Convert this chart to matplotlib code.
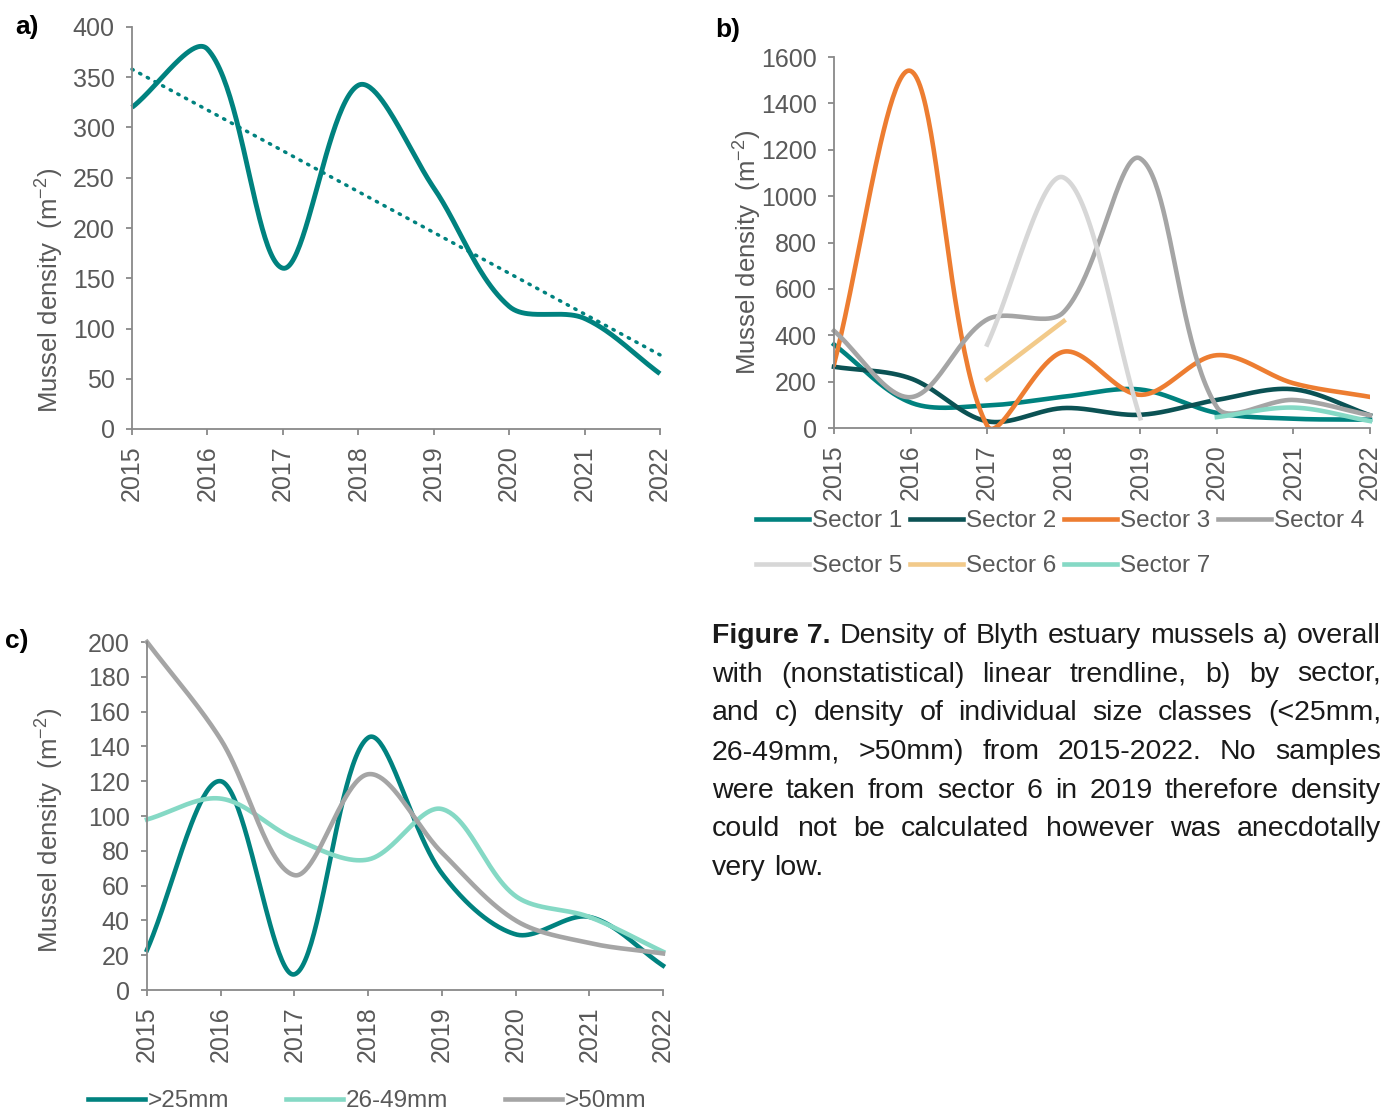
import numpy as np
import matplotlib
matplotlib.use("Agg")
import matplotlib.pyplot as plt

plt.rcParams['font.family'] = ['Liberation Sans', 'DejaVu Sans']
plt.rcParams['mathtext.fontset'] = 'custom'
plt.rcParams['mathtext.rm'] = 'Liberation Sans'
plt.rcParams['mathtext.default'] = 'regular'

# ---- data ----
years = [2015, 2016, 2017, 2018, 2019, 2020, 2021, 2022]

overall = [320, 378, 160, 342, 240, 122, 110, 55]

sector1 = [360, 110, 97, 135, 166, 65, 40, 36]
sector2 = [264, 214, 29, 86, 57, 121, 167, 55]
sector3 = [275, 1540, 10, 329, 143, 314, 193, 134]
sector4 = [419, 133, 468, 500, 1162, 90, 121, 55]
sector5_years = [2017, 2018, 2019]
sector5 = [360, 1080, 42]
sector6_years = [2017, 2018]
sector6 = [210, 461]
sector7_years = [2020, 2021, 2022]
sector7 = [47, 88, 30]

size_25 = [23, 120, 9, 145, 67, 32, 42, 14]
size_26_49 = [98, 110, 87, 75, 104, 54, 42, 22]
size_50 = [200, 144, 66, 124, 79, 40, 27, 21]

TEAL = '#00827F'
DARK = '#0B5254'
ORANGE = '#ED7D31'
GRAY = '#A5A5A5'
LGRAY = '#D7D7D7'
SAND = '#F2CA8A'
MINT = '#85D9C5'
TXT = '#595959'
SPINE = '#898989'

W, H = 1381, 1110
TICK_FS = 18
LAB_FS = 18.5
LEG_FS = 17.5


def smooth(xs, ys, kx, ky, n=50):
    # Excel-like smoothed line: Bezier segments, control arms scaled by
    # neighbouring segment lengths measured on screen (kx, ky = px per unit)
    p = np.column_stack([xs, ys]).astype(float)
    scr = p * [kx, ky]
    m = len(p)
    nxt = np.zeros_like(p)
    prv = np.zeros_like(p)
    for i in range(m):
        a = p[max(i - 1, 0)]
        b = p[min(i + 1, m - 1)]
        d0 = np.hypot(*(scr[i] - scr[max(i - 1, 0)]))
        d1 = np.hypot(*(scr[min(i + 1, m - 1)] - scr[i]))
        tot = d0 + d1 if d0 + d1 > 0 else 1
        nxt[i] = p[i] + (b - a) * d1 / tot / 3
        prv[i] = p[i] - (b - a) * d0 / tot / 3
    out = []
    t = np.linspace(0, 1, n)[:, None]
    for i in range(m - 1):
        seg = ((1 - t) ** 3 * p[i] + 3 * (1 - t) ** 2 * t * nxt[i]
               + 3 * (1 - t) * t ** 2 * prv[i + 1] + t ** 3 * p[i + 1])
        out.append(seg if i == 0 else seg[1:])
    c = np.vstack(out)
    return c[:, 0], c[:, 1]


def px_axes(fig, left, top, right, bottom):
    return fig.add_axes([left / W, 1 - bottom / H, (right - left) / W, (bottom - top) / H])


def scales(ax, ymax):
    bb = ax.get_position()
    return bb.width * W / 7.0, bb.height * H / ymax


def style(ax, ymax, step):
    for s in ['top', 'right']:
        ax.spines[s].set_visible(False)
    for s in ['left', 'bottom']:
        ax.spines[s].set_color(SPINE)
        ax.spines[s].set_linewidth(1.3)
    ax.set_xlim(2015, 2022)
    ax.set_ylim(0, ymax)
    ax.set_xticks(years)
    ax.set_xticklabels([str(y) for y in years], rotation=90)
    ax.set_yticks(np.arange(0, ymax + 1, step))
    ax.tick_params(colors=SPINE, labelcolor=TXT, labelsize=TICK_FS, length=4.5, width=1.3)
    ax.tick_params(axis='x', pad=7)
    ax.tick_params(axis='y', pad=8)


fig = plt.figure(figsize=(W / 100, H / 100), dpi=100)

# ---- a) overall ----
ax = px_axes(fig, 132, 27, 660, 429)
kx, ky = scales(ax, 400)
sx, sy = smooth(years, overall, kx, ky)
ax.plot(sx, sy, color=TEAL, lw=3.5, clip_on=False, solid_capstyle='butt')
coef = np.polyfit(years, overall, 1)
ax.plot(years, np.polyval(coef, years), color=TEAL, lw=2.5, linestyle=(0, (0.4, 2.1)),
        dash_capstyle='round', clip_on=False)
style(ax, 400, 50)
fig.text(15 / W, 1 - 27 / H, 'a)', fontsize=19, fontweight='bold', va='center', ha='left')
fig.text(50 / W, 1 - 290 / H, 'Mussel density  (m$^{-2}$)', rotation=90, fontsize=LAB_FS,
         color=TXT, ha='center', va='center')

# ---- b) by sector ----
ax = px_axes(fig, 834, 57, 1370, 428)
kx, ky = scales(ax, 1600)
series_b = [
    (years, sector1, TEAL, 'Sector 1'),
    (years, sector2, DARK, 'Sector 2'),
    (years, sector3, ORANGE, 'Sector 3'),
    (years, sector4, GRAY, 'Sector 4'),
    (sector5_years, sector5, LGRAY, 'Sector 5'),
    (sector6_years, sector6, SAND, 'Sector 6'),
    (sector7_years, sector7, MINT, 'Sector 7'),
]
handles = []
for xs, ys, col, lab in series_b:
    sx, sy = smooth(xs, ys, kx, ky)
    ln, = ax.plot(sx, sy, color=col, lw=3.3, label=lab, clip_on=(lab == 'Sector 3'))
    handles.append(ln)
style(ax, 1600, 200)
fig.text(715 / W, 1 - 30 / H, 'b)', fontsize=19, fontweight='bold', va='center', ha='left')
fig.text(748 / W, 1 - 252 / H, 'Mussel density  (m$^{-2}$)', rotation=90, fontsize=LAB_FS,
         color=TXT, ha='center', va='center')
# legend fills column-wise, so reorder to read row-wise
order = [0, 4, 1, 5, 2, 6, 3]
fig.legend([handles[i] for i in order], [handles[i].get_label() for i in order],
           loc='upper left', bbox_to_anchor=(756 / W, 1 - 510 / H), ncol=4, frameon=False,
           fontsize=LEG_FS, labelcolor=TXT, handlelength=2.2, handletextpad=0.12,
           columnspacing=0.3, borderaxespad=0, borderpad=0, labelspacing=0.95)

# ---- c) size classes ----
ax = px_axes(fig, 147, 642, 663, 990)
kx, ky = scales(ax, 200)
for ys, col, lab in [(size_25, TEAL, '>25mm'), (size_26_49, MINT, '26-49mm'), (size_50, GRAY, '>50mm')]:
    sx, sy = smooth(years, ys, kx, ky)
    ax.plot(sx, sy, color=col, lw=3.3, label=lab, clip_on=False)
style(ax, 200, 20)
fig.text(5 / W, 1 - 641 / H, 'c)', fontsize=19, fontweight='bold', va='center', ha='left')
fig.text(50 / W, 1 - 830 / H, 'Mussel density  (m$^{-2}$)', rotation=90, fontsize=LAB_FS,
         color=TXT, ha='center', va='center')
fig.legend(*ax.get_legend_handles_labels(), loc='center left',
           bbox_to_anchor=(88 / W, 1 - 1101 / H), ncol=3, frameon=False,
           fontsize=LEG_FS, labelcolor=TXT, handlelength=2.35, handletextpad=0.1,
           columnspacing=2.35, borderaxespad=0, borderpad=0)

# ---- caption, justified ----
caption = [
    [('Figure 7.', 'bold')] + [(w, 'normal') for w in 'Density of Blyth estuary mussels a) overall'.split()],
    [(w, 'normal') for w in 'with (nonstatistical) linear trendline, b) by sector,'.split()],
    [(w, 'normal') for w in 'and c) density of individual size classes (<25mm,'.split()],
    [(w, 'normal') for w in '26-49mm, >50mm) from 2015-2022. No samples'.split()],
    [(w, 'normal') for w in 'were taken from sector 6 in 2019 therefore density'.split()],
    [(w, 'normal') for w in 'could not be calculated however was anecdotally'.split()],
    [(w, 'normal') for w in 'very low.'.split()],
]
CAP_FS = 20.5
cap_left, cap_right = 712, 1381
renderer = fig.canvas.get_renderer()
probe = fig.text(0, 0, 'a a', fontsize=CAP_FS)
probe1 = fig.text(0, 0, 'aa', fontsize=CAP_FS)
space_w = probe.get_window_extent(renderer).width - probe1.get_window_extent(renderer).width
probe.remove()
probe1.remove()
for i, line in enumerate(caption):
    base = 643 + i * 38.7
    texts = [fig.text(0, 1 - base / H, w, fontsize=CAP_FS, fontweight=wt, color='#1A1A1A',
                      va='baseline', ha='left') for w, wt in line]
    widths = [t.get_window_extent(renderer).width for t in texts]
    if i == len(caption) - 1:
        gap = space_w
    else:
        gap = (cap_right - cap_left - sum(widths)) / (len(texts) - 1)
    x = cap_left
    for t, w in zip(texts, widths):
        t.set_x(x / W)
        x += w + gap

fig.savefig('out.png', dpi=100)
